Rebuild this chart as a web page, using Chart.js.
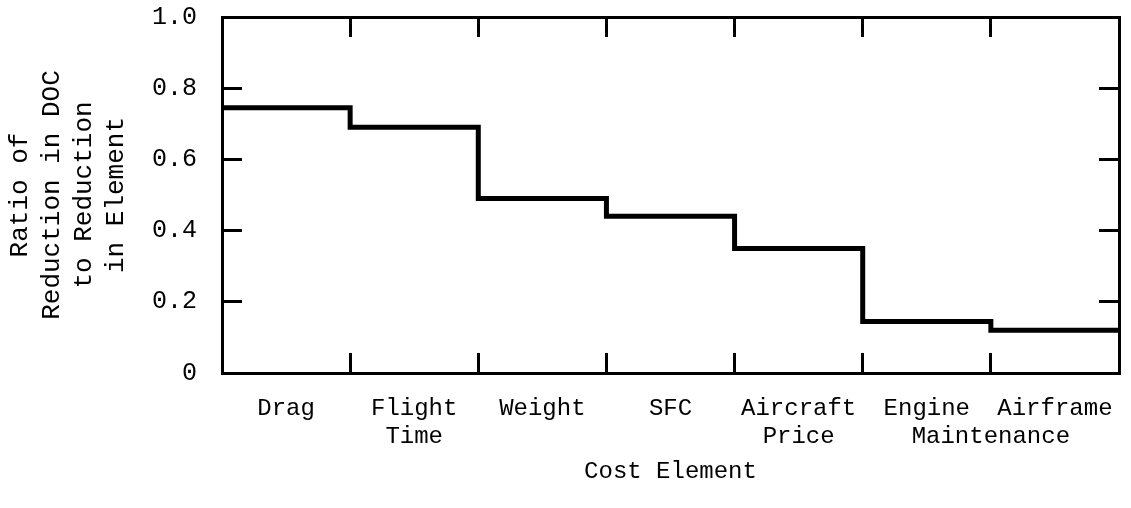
<!DOCTYPE html>
<html><head><meta charset="utf-8">
<script src="https://cdn.jsdelivr.net/npm/chart.js@4.4.0/dist/chart.umd.min.js"></script>
<style>html,body{margin:0;padding:0;background:#fff;} #wrap{width:1131px;height:508px;position:relative;}</style>
</head><body><div id="wrap"><canvas id="c"></canvas></div>
<script>
// ---- data ----
const categories = ['Drag', ['Flight', 'Time'], 'Weight', 'SFC', ['Aircraft', 'Price'], 'Engine', 'Airframe'];
const sharedLabel = 'Maintenance';   // second line shared by Engine and Airframe
const ratios = [0.745, 0.69, 0.49, 0.44, 0.35, 0.145, 0.12];
const yTickValues = [0, 0.2, 0.4, 0.6, 0.8, 1.0];
const yTitle = ['Ratio of', 'Reduction in DOC', 'to Reduction', 'in Element'];
const xTitle = 'Cost Element';

// ---- chart ----
const FONT = "'Liberation Mono', 'DejaVu Sans Mono', monospace";
const n = categories.length;
const stepPoints = ratios.map((v, i) => ({x: i, y: v})).concat([{x: n, y: ratios[n - 1]}]);
const boundaryTicks = s => { s.ticks = Array.from({length: n + 1}, (_, i) => ({value: i})); };
const labelTicks = s => { s.ticks = categories.map((_, i) => ({value: i + 0.5})).concat([{value: n - 1}]); };
const yTicks = s => { s.ticks = yTickValues.map(v => ({value: v})); };
const inwardGrid = {drawOnChartArea: false, drawTicks: true, tickLength: -20, color: '#000', lineWidth: 3};
const frame = {display: true, color: '#000', width: 3};

Chart.defaults.font.family = FONT;
Chart.defaults.color = '#000';

new Chart(document.getElementById('c'), {
  type: 'line',
  data: {
    datasets: [{
      data: stepPoints,
      stepped: true,
      borderColor: '#000',
      borderWidth: 5,
      pointRadius: 0,
      fill: false,
      xAxisID: 'x',
      yAxisID: 'y'
    }]
  },
  options: {
    responsive: true,
    maintainAspectRatio: false,
    animation: false,
    devicePixelRatio: 1,
    layout: {padding: {top: 17, right: 12, left: 0, bottom: 0}},
    plugins: {legend: {display: false}, tooltip: {enabled: false}},
    scales: {
      x: {
        type: 'linear', position: 'bottom', weight: 0, min: 0, max: n,
        afterBuildTicks: boundaryTicks,
        ticks: {display: false},
        grid: inwardGrid, border: frame,
        afterFit: s => { s.height = 0; }
      },
      xl: {
        type: 'linear', position: 'bottom', weight: 1, min: 0, max: n,
        afterBuildTicks: labelTicks,
        grid: {display: false, drawTicks: false},
        border: {display: false},
        ticks: {
          autoSkip: false, maxRotation: 0, minRotation: 0, padding: 22,
          font: {size: 24, lineHeight: 1.15},
          callback: (v, i) => i < n ? categories[i] : ['', sharedLabel]
        },
        title: {display: true, text: xTitle, font: {size: 24, lineHeight: 1.2}, padding: {top: 0, bottom: 22}},
        afterFit: s => { s.height = 135; }
      },
      x2: {
        type: 'linear', position: 'top', min: 0, max: n,
        afterBuildTicks: boundaryTicks,
        ticks: {display: false},
        grid: inwardGrid, border: frame,
        afterFit: s => { s.height = 0; }
      },
      y: {
        type: 'linear', position: 'left', min: 0, max: 1,
        afterBuildTicks: yTicks,
        grid: inwardGrid, border: frame,
        ticks: {
          padding: 45, font: {size: 25},
          callback: v => v === 0 ? '0' : v.toFixed(1)
        },
        title: {display: true, text: yTitle, font: {size: 26, lineHeight: 1.23}, padding: {top: 4, bottom: 0}},
        afterFit: s => { s.width = 222; s.paddingTop = 12; s.paddingBottom = 12; }
      },
      y2: {
        type: 'linear', position: 'right', min: 0, max: 1,
        afterBuildTicks: yTicks,
        ticks: {display: false},
        grid: inwardGrid, border: frame,
        afterFit: s => { s.width = 0; }
      }
    }
  }
});
</script>
</body></html>
